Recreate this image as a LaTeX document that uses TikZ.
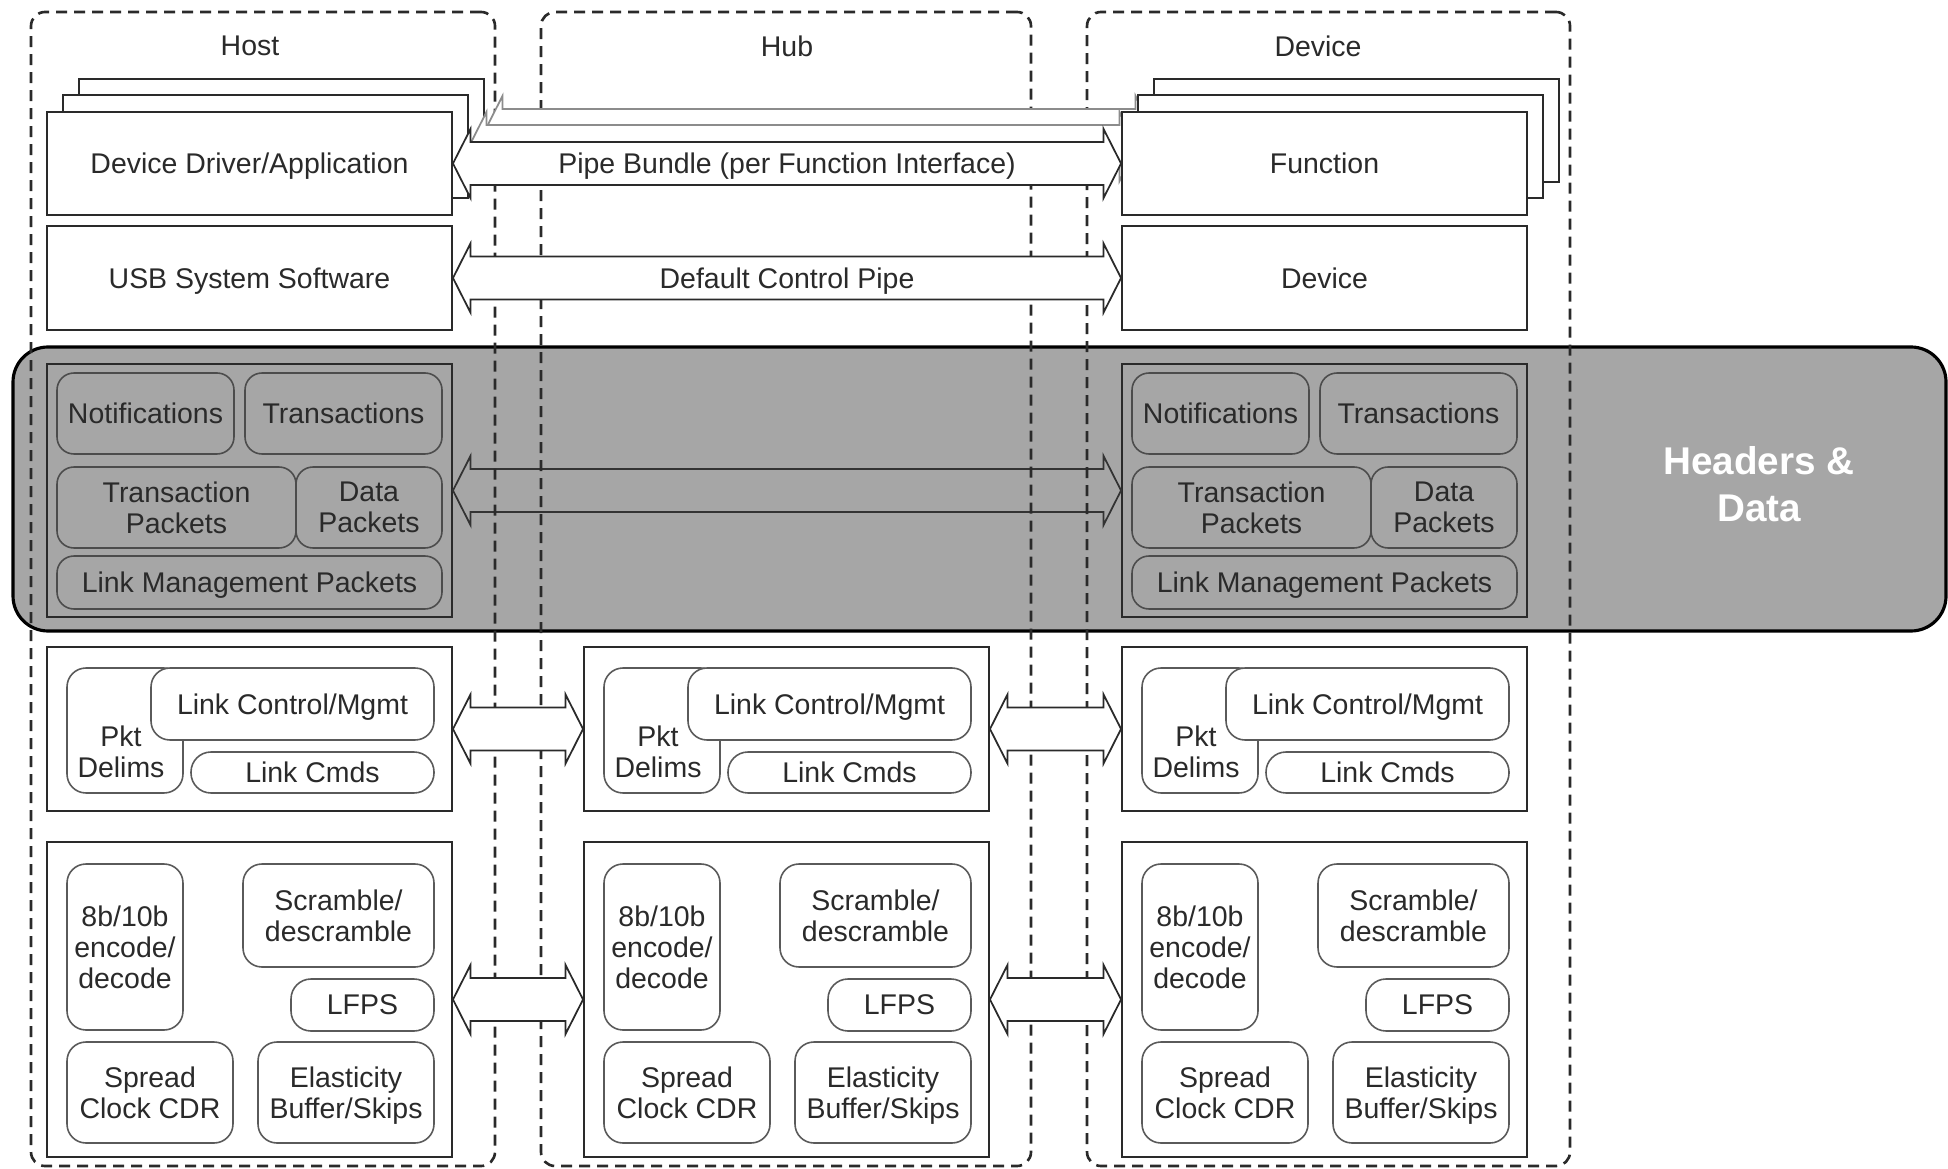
\documentclass[tikz,border=0pt]{standalone}
\usepackage{fontspec}
\setmainfont{Liberation Sans}
\usepackage{tikz}
\usetikzlibrary{calc}
\definecolor{inkc}{HTML}{2A2A2A}
\definecolor{backc}{HTML}{8C8C8C}
\definecolor{bandc}{HTML}{A6A6A6}
\definecolor{rimc}{HTML}{5A5A5A}

\tikzset{
  txt/.style={font=\fontsize{8.1}{8.8}\selectfont, text=inkc, align=center, inner sep=0pt,
    text depth=0pt},
  sz/.style 2 args={minimum width=#1, minimum height=#2},
  box/.style 2 args={txt, rectangle, draw=inkc, line width=0.55pt, fill=white, sz={#1}{#2}},
  rbox/.style 2 args={txt, rectangle, draw=rimc, line width=0.45pt, fill=white,
    rounded corners=1.9mm, sz={#1}{#2}},
  pbox/.style 2 args={txt, rectangle, draw=inkc, line width=0.55pt, sz={#1}{#2}},
  qbox/.style 2 args={txt, rectangle, draw=black!70, line width=0.45pt,
    rounded corners=1.7mm, sz={#1}{#2}},
  cont/.style 2 args={rectangle, draw=inkc, line width=0.75pt, dash pattern=on 1.1mm off 0.7mm,
    rounded corners=1.4mm, inner sep=0pt, sz={#1}{#2}},
  band/.style={rectangle, draw=black, line width=0.9pt, fill=bandc, rounded corners=3.5mm,
    inner sep=0pt},
  fatarr/.style={draw=inkc, line width=0.5pt, fill=white, line join=miter},
  backarr/.style={draw=backc},
  bandarr/.style={draw=black!80, fill=none},
}

% hollow double arrow between two anchors
\newcommand{\fatarrow}[3][]{%
  \draw[fatarr,#1] let \p1=#2, \p2=#3 in
    (\x1,\y1) -- (\x1+1.75mm,\y1+3.45mm) -- (\x1+1.75mm,\y1+2.15mm)
    -- (\x2-1.75mm,\y2+2.15mm) -- (\x2-1.75mm,\y2+3.45mm) -- (\x2,\y2)
    -- (\x2-1.75mm,\y2-3.45mm) -- (\x2-1.75mm,\y2-2.15mm)
    -- (\x1+1.75mm,\y1-2.15mm) -- (\x1+1.75mm,\y1-3.45mm) -- cycle;}

\begin{document}
\begin{tikzpicture}[x=0.1mm, y=-0.1mm]
  \useasboundingbox (0,0) rectangle (1948,1169);

  % protocol layer band
  \node[band, sz={193.3mm}{28.4mm}] (hdr) at (979.5,489) {};
  \node[font=\bfseries\fontsize{11}{13.3}\selectfont, text=white, align=center, inner sep=0pt]
    (hdrtxt) at (1759,484) {Headers \&\\Data};
  \node[pbox={40.5mm}{25.3mm}] (hostprot) at (249.5,490.5) {};
  \node[qbox={17.7mm}{8.1mm}] (hostnotif) at (145.5,413.5) {Notifications};
  \node[qbox={19.7mm}{8.1mm}] (hosttrans) at (343.5,413.5) {Transactions};
  \node[qbox={23.9mm}{8.1mm}] (hosttpkt) at (176.5,507.5) {Transaction\\Packets};
  \node[qbox={14.6mm}{8.1mm}] (hostdpkt) at (369,507.5) {Data\\Packets};
  \node[qbox={38.5mm}{5.3mm}] (hostlmp) at (249.5,582.5) {Link Management Packets};
  \node[pbox={40.5mm}{25.3mm}] (devprot) at (1324.5,490.5) {};
  \node[qbox={17.7mm}{8.1mm}] (devnotif) at (1220.5,413.5) {Notifications};
  \node[qbox={19.7mm}{8.1mm}] (devtrans) at (1418.5,413.5) {Transactions};
  \node[qbox={23.9mm}{8.1mm}] (devtpkt) at (1251.5,507.5) {Transaction\\Packets};
  \node[qbox={14.6mm}{8.1mm}] (devdpkt) at (1444,507.5) {Data\\Packets};
  \node[qbox={38.5mm}{5.3mm}] (devlmp) at (1324.5,582.5) {Link Management Packets};
  \fatarrow[bandarr]{(hostprot.east)}{(devprot.west)}

  % host / hub / device outlines
  \node[cont={46.4mm}{115.4mm}] (host) at (263,589) {};
  \node[cont={49mm}{115.4mm}] (hub) at (786,589) {};
  \node[cont={48.3mm}{115.4mm}] (dev) at (1328.5,589) {};
  \node[txt] (hostlbl) at (250,46) {Host};
  \node[txt] (hublbl) at (787,46) {Hub};
  \node[txt] (devlbl) at (1318,46) {Device};

  % function stacks and pipe bundle
  \node[box={40.5mm}{10.3mm}] (hostapp3) at (281.5,130.5) {};
  \node[box={40.5mm}{10.3mm}] (devfunc3) at (1356.5,130.5) {};
  \fatarrow[backarr]{(hostapp3.east)}{(devfunc3.west)}
  \node[box={40.5mm}{10.3mm}] (hostapp2) at (265.5,146.5) {};
  \node[box={40.5mm}{10.3mm}] (devfunc2) at (1340.5,146.5) {};
  \fatarrow[backarr]{(hostapp2.east)}{(devfunc2.west)}
  \node[box={40.5mm}{10.3mm}] (hostapp) at (249.5,163.5) {Device Driver/Application};
  \node[box={40.5mm}{10.3mm}] (devfunc) at (1324.5,163.5) {Function};
  \fatarrow{(hostapp.east)}{(devfunc.west)}
  \node[txt] (pipelbl) at ($(hostapp.east)!0.5!(devfunc.west)$) {Pipe Bundle (per Function Interface)};

  \node[box={40.5mm}{10.4mm}] (hostsys) at (249.5,278) {USB System Software};
  \node[box={40.5mm}{10.4mm}] (devdev) at (1324.5,278) {Device};
  \fatarrow{(hostsys.east)}{(devdev.west)}
  \node[txt] (ctrllbl) at ($(hostsys.east)!0.5!(devdev.west)$) {Default Control Pipe};

  % link layer
  \node[box={40.5mm}{16.4mm}] (hostlink) at (249.5,729) {};
  \node[rbox={11.6mm}{12.5mm}] (hostpkt) at (125,730.5) {};
  \node[txt] (hostpkttxt) at (121,752) {Pkt\\Delims};
  \node[rbox={28.3mm}{7.2mm}] (hostlcm) at (292.5,704) {Link Control/Mgmt};
  \node[rbox={24.3mm}{4.1mm}, rounded corners=2mm] (hostlcmd) at (312.5,772.5) {Link Cmds};
  \node[box={40.5mm}{16.4mm}] (hublink) at (786.5,729) {};
  \node[rbox={11.6mm}{12.5mm}] (hubpkt) at (662,730.5) {};
  \node[txt] (hubpkttxt) at (658,752) {Pkt\\Delims};
  \node[rbox={28.3mm}{7.2mm}] (hublcm) at (829.5,704) {Link Control/Mgmt};
  \node[rbox={24.3mm}{4.1mm}, rounded corners=2mm] (hublcmd) at (849.5,772.5) {Link Cmds};
  \node[box={40.5mm}{16.4mm}] (devlink) at (1324.5,729) {};
  \node[rbox={11.6mm}{12.5mm}] (devpkt) at (1200,730.5) {};
  \node[txt] (devpkttxt) at (1196,752) {Pkt\\Delims};
  \node[rbox={28.3mm}{7.2mm}] (devlcm) at (1367.5,704) {Link Control/Mgmt};
  \node[rbox={24.3mm}{4.1mm}, rounded corners=2mm] (devlcmd) at (1387.5,772.5) {Link Cmds};
  \fatarrow{(hostlink.east)}{(hublink.west)}
  \fatarrow{(hublink.east)}{(devlink.west)}

  % physical layer
  \node[box={40.5mm}{31.5mm}] (hostphy) at (249.5,999.5) {};
  \node[rbox={11.6mm}{16.6mm}] (hostenc) at (125,947) {8b/10b\\encode/\\decode};
  \node[rbox={19.1mm}{10.3mm}] (hostscr) at (338.5,915.5) {Scramble/\\descramble};
  \node[rbox={14.3mm}{5.2mm}, rounded corners=2mm] (hostlfps) at (362.5,1005) {LFPS};
  \node[rbox={16.6mm}{10.1mm}] (hostcdr) at (150,1092.5) {Spread\\Clock CDR};
  \node[rbox={17.6mm}{10.1mm}] (hostebuf) at (346,1092.5) {Elasticity\\Buffer/Skips};
  \node[box={40.5mm}{31.5mm}] (hubphy) at (786.5,999.5) {};
  \node[rbox={11.6mm}{16.6mm}] (hubenc) at (662,947) {8b/10b\\encode/\\decode};
  \node[rbox={19.1mm}{10.3mm}] (hubscr) at (875.5,915.5) {Scramble/\\descramble};
  \node[rbox={14.3mm}{5.2mm}, rounded corners=2mm] (hublfps) at (899.5,1005) {LFPS};
  \node[rbox={16.6mm}{10.1mm}] (hubcdr) at (687,1092.5) {Spread\\Clock CDR};
  \node[rbox={17.6mm}{10.1mm}] (hubebuf) at (883,1092.5) {Elasticity\\Buffer/Skips};
  \node[box={40.5mm}{31.5mm}] (devphy) at (1324.5,999.5) {};
  \node[rbox={11.6mm}{16.6mm}] (devenc) at (1200,947) {8b/10b\\encode/\\decode};
  \node[rbox={19.1mm}{10.3mm}] (devscr) at (1413.5,915.5) {Scramble/\\descramble};
  \node[rbox={14.3mm}{5.2mm}, rounded corners=2mm] (devlfps) at (1437.5,1005) {LFPS};
  \node[rbox={16.6mm}{10.1mm}] (devcdr) at (1225,1092.5) {Spread\\Clock CDR};
  \node[rbox={17.6mm}{10.1mm}] (devebuf) at (1421,1092.5) {Elasticity\\Buffer/Skips};
  \fatarrow{(hostphy.east)}{(hubphy.west)}
  \fatarrow{(hubphy.east)}{(devphy.west)}
\end{tikzpicture}
\end{document}
